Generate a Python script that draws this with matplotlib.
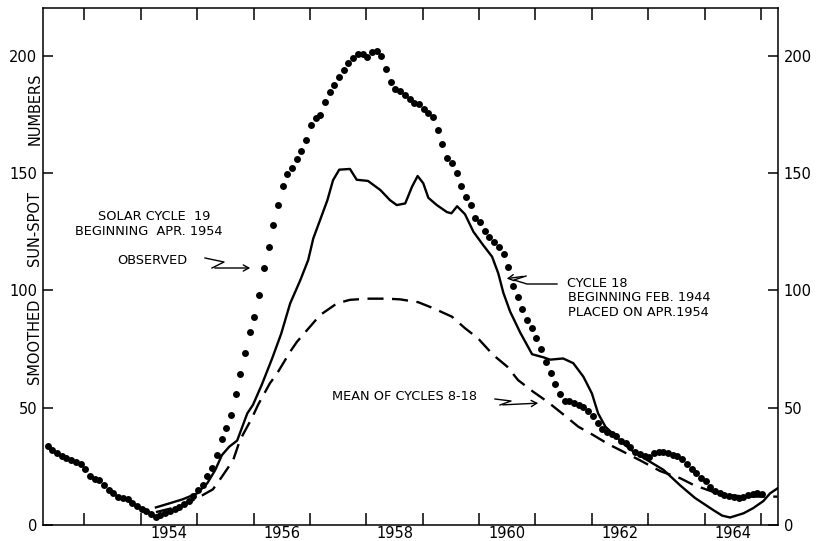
import matplotlib
matplotlib.use("Agg")
import matplotlib.pyplot as plt
from matplotlib.lines import Line2D
from matplotlib.patches import FancyArrowPatch

# ---------------- data ----------------
obs_start = 1952.35          # first monthly value (observed smoothed numbers)
observed = [
    33.8, 32.0, 30.8, 29.6, 28.4, 27.6, 26.8, 25.8, 23.8, 21.0,
    19.8, 19.0, 17.0, 15.0, 13.5, 12.0, 11.5, 11.0, 9.5, 8.2,
    7.0, 6.0, 4.5, 3.5, 4.2, 5.2, 6.0, 7.0, 7.8, 8.8,
    10.2, 12.5, 14.8, 17.0, 21.0, 24.5, 30.0, 36.8, 41.5, 47.0,
    55.8, 64.5, 73.5, 82.5, 88.5, 98.0, 109.5, 118.5, 128.0, 136.3,
    144.5, 149.5, 152.0, 156.0, 159.5, 164.0, 170.7, 173.4, 175.0, 180.5,
    184.5, 187.5, 190.8, 193.8, 197.0, 199.3, 201.0, 201.0, 199.6, 201.5,
    202.2, 200.0, 194.5, 188.8, 186.0, 185.0, 183.5, 181.7, 180.0, 179.5,
    177.5, 175.7, 174.0, 168.5, 162.5, 156.5, 154.4, 150.2, 144.5, 140.0,
    136.3, 131.0, 129.2, 125.2, 122.7, 120.5, 118.4, 115.5, 110.0, 102.0,
    97.3, 92.0, 87.5, 84.0, 79.7, 75.0, 69.5, 65.0, 60.0, 56.0,
    53.0, 52.7, 52.0, 51.3, 50.4, 48.7, 46.3, 43.6, 41.0, 39.5,
    38.8, 38.0, 36.0, 34.8, 33.2, 31.2, 30.2, 29.3, 28.8, 30.5,
    31.2, 31.0, 30.5, 29.8, 29.4, 28.2, 26.2, 24.0, 22.0, 20.2,
    18.6, 16.3, 14.5, 13.5, 12.8, 12.3, 12.0, 11.5, 12.0, 12.8,
    13.4, 13.5, 13.2,
]
obs_years = [obs_start + i / 12.0 for i in range(len(observed))]

cycle18_years = [
    1954.27, 1954.52, 1954.75, 1955.00, 1955.18, 1955.32, 1955.44, 1955.57,
    1955.71, 1955.89, 1955.99, 1956.15, 1956.33, 1956.49, 1956.65, 1956.83,
    1956.97, 1957.06, 1957.18, 1957.31, 1957.41, 1957.52, 1957.71, 1957.83,
    1958.03, 1958.25, 1958.42, 1958.54, 1958.69, 1958.81, 1958.91, 1959.01,
    1959.10, 1959.25, 1959.43, 1959.51, 1959.61, 1959.75, 1959.90, 1960.07,
    1960.23, 1960.34, 1960.43, 1960.55, 1960.73, 1960.94, 1961.14, 1961.26,
    1961.49, 1961.67, 1961.85, 1962.00, 1962.11, 1962.24, 1962.44, 1962.68,
    1962.98, 1963.27, 1963.57, 1963.83, 1964.15, 1964.31, 1964.45, 1964.69,
    1964.86, 1965.04, 1965.16, 1965.29,
]
cycle18_values = [
    7.5, 9.3, 11.0, 13.5, 17.8, 23.4, 29.8, 33.4,
    36.0, 47.6, 51.2, 60.0, 71.0, 81.5, 94.5, 104.4,
    113.0, 122.2, 130.0, 138.5, 147.0, 151.5, 151.8, 147.2,
    146.7, 142.8, 138.5, 136.4, 137.1, 144.2, 148.8, 145.7,
    139.5, 136.4, 133.4, 132.9, 135.9, 132.5, 125.0, 119.4,
    114.4, 107.3, 99.0, 91.0, 82.0, 72.8, 71.5, 70.5,
    71.0, 69.0, 63.2, 56.1, 47.6, 41.9, 37.4, 32.2,
    27.7, 23.5, 16.8, 11.5, 6.4, 4.0, 3.2, 5.0,
    7.2, 10.2, 13.5, 15.6,
]

mean_years = [
    1954.27, 1954.70, 1955.00, 1955.28, 1955.44, 1955.64, 1955.76, 1955.97,
    1956.08, 1956.29, 1956.42, 1956.65, 1956.77, 1957.00, 1957.18, 1957.48,
    1957.71, 1958.02, 1958.37, 1958.60, 1958.92, 1959.19, 1959.52, 1959.75,
    1959.98, 1960.25, 1960.50, 1960.69, 1960.96, 1961.21, 1961.47, 1961.76,
    1962.02, 1962.29, 1962.56, 1962.86, 1963.21, 1963.57, 1963.80, 1964.14,
    1964.37, 1964.76, 1965.29,
]
mean_values = [
    5.5, 8.0, 11.4, 15.2, 20.6, 27.7, 36.2, 45.5,
    51.2, 60.4, 64.7, 73.9, 78.1, 84.5, 89.5, 94.5,
    96.0, 96.5, 96.5, 96.2, 95.0, 92.4, 88.8, 83.9,
    79.6, 72.5, 67.5, 61.8, 56.8, 52.6, 47.6, 41.9,
    38.4, 34.5, 31.2, 27.5, 23.0, 19.9, 17.1, 14.2,
    12.8, 12.1, 12.1,
]

year_ticks = list(range(1953, 1966))
year_labels = ["1954", "1956", "1958", "1960", "1962", "1964"]
y_ticks = [0, 50, 100, 150, 200]
ylabel_words = ["SMOOTHED", "SUN-SPOT", "NUMBERS"]

# ---------------- figure ----------------
W, H = 823, 541
fig = plt.figure(figsize=(W / 100, H / 100), dpi=100)
ax = fig.add_axes([42.7 / W, 1 - 525 / H, (778 - 42.7) / W, (525 - 8.3) / H])
ax.set_xlim(1952.262, 1965.30)
ax.set_ylim(0, 220.3)

ax.plot(obs_years, observed, linestyle="none", marker="o", markersize=5.0,
        color="black", markeredgewidth=0)
ax.plot(cycle18_years, cycle18_values, color="black", lw=1.7,
        solid_joinstyle="round")
ax.plot(mean_years, mean_values, color="black", lw=1.7,
        linestyle=(0, (6.8, 3.6)))

for s in ax.spines.values():
    s.set_linewidth(1.1)

ax.set_xticks(year_ticks)
ax.set_xticklabels([])
ax.set_xticks([int(y) + 0.5 for y in year_labels], year_labels, minor=True)
ax.tick_params(axis="x", which="major", direction="in", length=8.6, width=1.1,
               top=True, bottom=True)
ax.tick_params(axis="x", which="minor", length=0, pad=0.5, labelsize=10.5)
ax.set_yticks(y_ticks, [str(v) for v in y_ticks])
ax.tick_params(axis="y", direction="in", length=7.2, width=1.1, left=True,
               right=True, labelleft=True, labelright=True, pad=4,
               labelsize=10.5)

# y-axis title: words sit between the tick labels, as in the reference
for word, cy in zip(ylabel_words, [341, 228, 109]):
    fig.text(35 / W, 1 - cy / H, word, rotation=90, ha="center",
             va="center", fontsize=10.5)

def ft(px, py, s, ha="center"):
    fig.text(px / W, 1 - py / H, s, ha=ha, va="center", fontsize=9.3)

ft(154, 217, "SOLAR CYCLE  19")
ft(149, 231, "BEGINNING  APR. 1954")
ft(152, 260, "OBSERVED")
ft(567, 283.5, "CYCLE 18", ha="left")
ft(568, 297.5, "BEGINNING FEB. 1944", ha="left")
ft(568, 312.5, "PLACED ON APR.1954", ha="left")
ft(405, 397, "MEAN OF CYCLES 8-18")

def squiggle(pts):
    xs = [p[0] / W for p in pts[:-1]]
    ys = [1 - p[1] / H for p in pts[:-1]]
    fig.add_artist(Line2D(xs, ys, transform=fig.transFigure, color="black",
                          lw=1.0))
    a, b = pts[-2], pts[-1]
    fig.add_artist(FancyArrowPatch(
        (a[0] / W, 1 - a[1] / H), (b[0] / W, 1 - b[1] / H),
        transform=fig.transFigure, arrowstyle="->,head_length=4,head_width=2.2",
        color="black", lw=1.0, mutation_scale=1))

squiggle([(205, 258), (224, 262), (212, 268), (253, 268)])
squiggle([(557, 284), (527, 284), (514, 280), (526, 276), (504, 279)])
squiggle([(495, 399), (511, 401), (500, 405), (541, 403)])

fig.savefig("out.png", dpi=100)
